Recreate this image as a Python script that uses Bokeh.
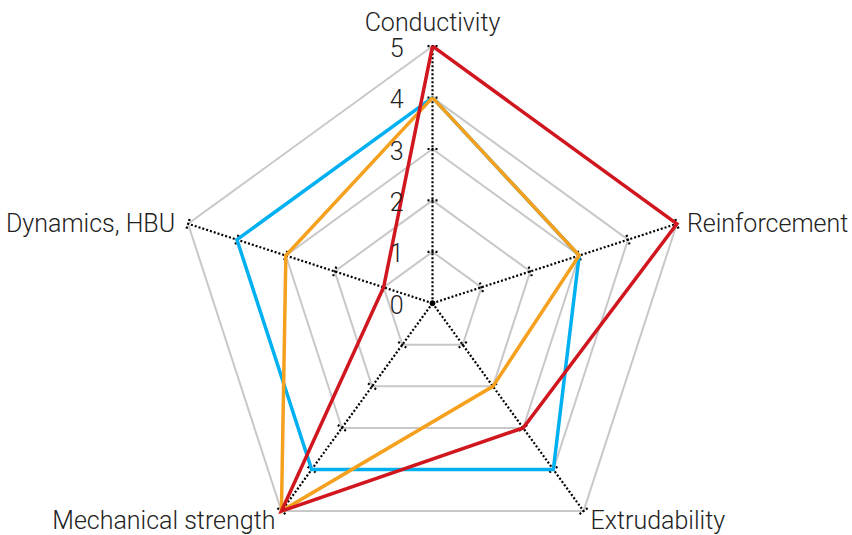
import numpy as np
from bokeh.plotting import figure
from bokeh.models import Range1d
from bokeh.core.properties import value
from bokeh.embed import file_html
from bokeh.resources import INLINE

categories = ["Conductivity", "Reinforcement", "Extrudability", "Mechanical strength", "Dynamics, HBU"]
blue_values = [4, 3, 4, 4, 4]
orange_values = [4, 3, 2, 5, 3]
red_values = [5, 5, 3, 5, 1]
tick_labels = ["0", "1", "2", "3", "4", "5"]
max_level = 5

W, H = 850, 535
S = 51.4  # px per unit
cx, cy = 432.0, 302.7  # center within frame (px from left/top)

p = figure(width=W, height=H, output_backend="svg", toolbar_location=None,
           x_range=Range1d(-cx / S, (W - cx) / S), y_range=Range1d(-(H - cy) / S, cy / S),
           min_border=0)
p.axis.visible = False
p.grid.visible = False
p.outline_line_color = None
p.background_fill_color = "white"

n = len(categories)
angles = np.pi / 2 - np.arange(n) * 2 * np.pi / n
cosA, sinA = np.cos(angles), np.sin(angles)

# grid pentagons
for lvl in range(1, max_level + 1):
    xs = list(lvl * cosA) + [lvl * cosA[0]]
    ys = list(lvl * sinA) + [lvl * sinA[0]]
    p.line(xs, ys, line_color="#c8c8c8", line_width=2)

# dotted axes
p.segment(x0=[0] * n, y0=[0] * n, x1=list(max_level * cosA), y1=list(max_level * sinA),
          line_color="black", line_width=2.2, line_dash="2 2")

# tick marks (perpendicular, dotted)
half = 5 / S
tx0, ty0, tx1, ty1 = [], [], [], []
for i in range(n):
    px, py = -sinA[i], cosA[i]
    for lvl in range(1, max_level + 1):
        bx, by = lvl * cosA[i], lvl * sinA[i]
        tx0.append(bx - half * px); ty0.append(by - half * py)
        tx1.append(bx + half * px); ty1.append(by + half * py)
p.segment(x0=tx0, y0=ty0, x1=tx1, y1=ty1, line_color="black", line_width=2.2, line_dash="2 2")
p.scatter([0], [0], size=5, color="black")

# series
for vals, col in [(blue_values, "#00b0f0"), (orange_values, "#f5a01e"), (red_values, "#d0161e")]:
    v = np.array(vals, dtype=float)
    xs = list(v * cosA) + [v[0] * cosA[0]]
    ys = list(v * sinA) + [v[0] * sinA[0]]
    p.line(xs, ys, line_color=col, line_width=3.5, line_join="miter")

font = value("Roboto Light")
# tick labels along the first axis
p.text(x=[0] * len(tick_labels), y=list(range(len(tick_labels))), text=tick_labels,
       x_offset=-29, y_offset=1, text_align="right", text_baseline="middle",
       text_font=font, text_font_size="25px", text_color="#222222")

# category labels
offs = [(0, -24, "center"), (10, 0, "left"), (7, 9, "left"), (-6, 9, "right"), (-13, 0, "right")]
for i, cat in enumerate(categories):
    xo, yo, al = offs[i]
    p.text(x=[max_level * cosA[i]], y=[max_level * sinA[i]], text=[cat],
           x_offset=xo, y_offset=yo, text_align=al, text_baseline="middle",
           text_font=font, text_font_size="25px", text_color="#222222")

open("out.html", "w").write(file_html(p, INLINE))
